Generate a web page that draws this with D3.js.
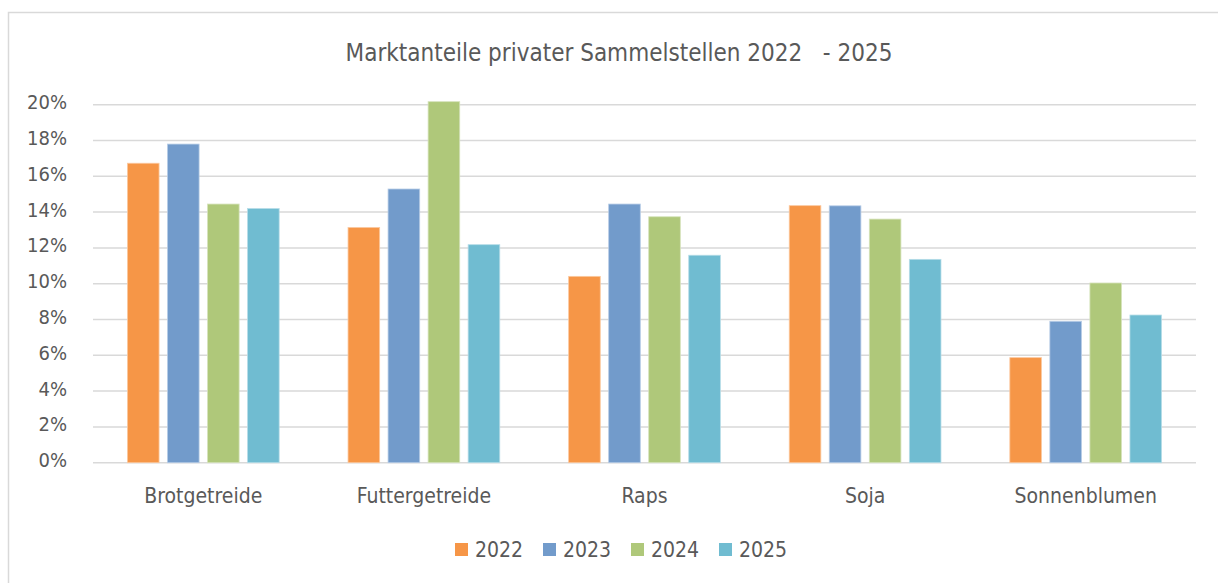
<!DOCTYPE html>
<html>
<head>
<meta charset="utf-8">
<script src="https://cdn.jsdelivr.net/npm/d3@7"></script>
<style>
  html, body { margin: 0; padding: 0; background: #fff; }
  svg { display: block; }
  text { font-family: "DejaVu Sans Condensed", "Liberation Sans Narrow", "Open Sans", sans-serif; fill: #595959; }
</style>
</head>
<body>
<svg id="chart" width="1218" height="583"></svg>
<script>
const title = "Marktanteile privater Sammelstellen 2022   - 2025";
const categories = ["Brotgetreide", "Futtergetreide", "Raps", "Soja", "Sonnenblumen"];
const years = ["2022", "2023", "2024", "2025"];
const values2022 = [0.1673, 0.1314, 0.1041, 0.1436, 0.0587];
const values2023 = [0.1780, 0.1529, 0.1445, 0.1435, 0.0790];
const values2024 = [0.1445, 0.2017, 0.1374, 0.1361, 0.1004];
const values2025 = [0.1420, 0.1218, 0.1159, 0.1136, 0.0825];
const yTicks = [0, 0.02, 0.04, 0.06, 0.08, 0.10, 0.12, 0.14, 0.16, 0.18, 0.20];
const colors = ["#F69647", "#729BCB", "#AFC87A", "#70BCD1"];
const strokeColors = ["#FBC9A0", "#B7CCE6", "#D6E3BC", "#B6DDE8"];

const seriesValues = [values2022, values2023, values2024, values2025];
const data = categories.map((c, i) => ({
  category: c,
  values: years.map((y, j) => ({ year: y, value: seriesValues[j][i], idx: j }))
}));

const FONT = '"DejaVu Sans Condensed", "Liberation Sans Narrow", sans-serif';
const svg = d3.select("#chart");

// outer chart border
svg.append("rect")
  .attr("x", 8.5).attr("y", 12.5)
  .attr("width", 1230).attr("height", 600)
  .attr("fill", "#fff").attr("stroke", "#D9D9D9").attr("stroke-width", 1.5);

const plotLeft = 93, plotRight = 1196, plotTop = 104.7, plotBottom = 462.7;

const x0 = d3.scaleBand().domain(categories).range([plotLeft, plotRight]).paddingInner(0).paddingOuter(0);
const x1 = d3.scaleBand().domain(years).range([0, x0.bandwidth()]).paddingInner(0.21).paddingOuter(0.86);
const y = d3.scaleLinear().domain([0, 0.2]).range([plotBottom, plotTop]);

// gridlines
const grid = svg.append("g");
grid.selectAll("line").data(yTicks).join("line")
  .attr("x1", plotLeft).attr("x2", plotRight)
  .attr("y1", d => y(d)).attr("y2", d => y(d))
  .attr("stroke", "#D9D9D9").attr("stroke-width", 1.5);

// y axis labels
const yAxis = d3.axisLeft(y).tickValues(yTicks).tickFormat(d3.format(".0%")).tickSize(0).tickPadding(26);
const yg = svg.append("g").attr("transform", `translate(${plotLeft},0)`).call(yAxis);
yg.select(".domain").remove();
yg.selectAll("text").style("font-size", "20px").style("fill", "#595959")
  .style("font-family", FONT).attr("dy", "0.2em");

// bars
const groups = svg.append("g").selectAll("g").data(data).join("g")
  .attr("transform", d => `translate(${x0(d.category)},0)`);
groups.selectAll("rect").data(d => d.values).join("rect")
  .attr("x", d => x1(d.year))
  .attr("width", x1.bandwidth())
  .attr("y", d => y(d.value))
  .attr("height", d => y(0) - y(d.value))
  .attr("fill", d => colors[d.idx])
  .attr("stroke", d => strokeColors[d.idx])
  .attr("stroke-width", 0.8);

// x axis labels
const xAxis = d3.axisBottom(x0).tickSize(0).tickPadding(25);
const xg = svg.append("g").attr("transform", `translate(0,${plotBottom})`).call(xAxis);
xg.select(".domain").remove();
xg.selectAll("text").style("font-size", "21px").style("fill", "#595959")
  .style("font-family", FONT);

// title
svg.append("text")
  .attr("x", 619).attr("y", 61)
  .attr("text-anchor", "middle")
  .style("font-size", "24px")
  .style("white-space", "pre")
  .attr("xml:space", "preserve")
  .text(title);

// legend
const legendX = d3.scaleBand().domain(years).range([455, 455 + 4 * 88]);
const lg = svg.append("g").selectAll("g").data(years).join("g")
  .attr("transform", d => `translate(${legendX(d)},543)`);
lg.append("rect").attr("width", 13).attr("height", 13)
  .attr("fill", (d, i) => colors[i]);
lg.append("text").attr("x", 20).attr("y", 14)
  .style("font-size", "21px")
  .text(d => d);
</script>
</body>
</html>
